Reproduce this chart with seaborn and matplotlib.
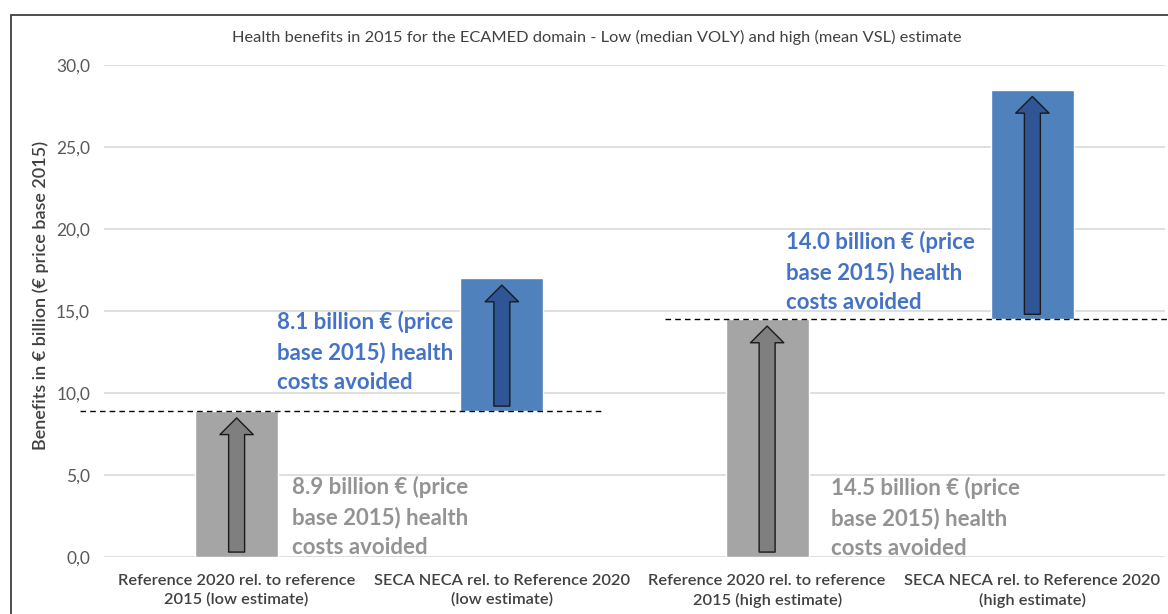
import numpy as np
import pandas as pd
import matplotlib
matplotlib.use("Agg")
import matplotlib.pyplot as plt
from matplotlib.patches import FancyArrowPatch, ArrowStyle, Rectangle
from matplotlib.ticker import FuncFormatter
import seaborn as sns

# ------------------------------------------------------------------
# Data
# ------------------------------------------------------------------
CATEGORIES = [
    "Reference 2020 rel. to reference\n2015 (low estimate)",
    "SECA NECA rel. to Reference 2020\n(low estimate)",
    "Reference 2020 rel. to reference\n2015 (high estimate)",
    "SECA NECA rel. to Reference 2020\n(high estimate)",
]
KIND = ["reference", "seca", "reference", "seca"]
BENEFIT = [8.9, 8.1, 14.5, 14.0]          # billion EUR, increment of each step
BASE = [0.0, 8.9, 0.0, 14.5]              # floating bars start here
Y_TICKS = [0, 5, 10, 15, 20, 25, 30]

TITLE = ("Health benefits in 2015 for the ECAMED domain - Low (median VOLY) "
         "and high (mean VSL) estimate")
YLABEL = "Benefits in \u20ac billion (\u20ac price base 2015)"

BAR_COLORS = {"reference": "#a5a5a5", "seca": "#4f81bd"}
ARROW_COLORS = {"reference": "#7f7f7f", "seca": "#2f5597"}
TEXT_COLORS = {"reference": "#939393", "seca": "#4472c4"}

# ------------------------------------------------------------------
# Figure
# ------------------------------------------------------------------
sns.set_style("white")
plt.rcParams["font.family"] = ["Lato", "DejaVu Sans"]

fig = plt.figure(figsize=(11.68, 6.14), dpi=100)
ax = fig.add_axes([104 / 1168, 1 - 557 / 614, 1061 / 1168, 492 / 614])

df = pd.DataFrame({"category": CATEGORIES, "kind": KIND,
                   "top": np.add(BASE, BENEFIT), "base": BASE})

sns.barplot(data=df, x="category", y="top", hue="kind", palette=BAR_COLORS,
            dodge=False, width=0.313, saturation=1, legend=False, ax=ax, zorder=2)

# turn the bars into floating bars (base -> top)
for patch in ax.patches:
    cx = patch.get_x() + patch.get_width() / 2
    i = int(round(cx))
    patch.set_y(df["base"][i])
    patch.set_height(df["top"][i] - df["base"][i])

# arrows inside bars
for i, row in df.iterrows():
    arr = FancyArrowPatch(
        (i, row["base"] + 0.3), (i, row["top"] - 0.42),
        arrowstyle=ArrowStyle.Simple(head_length=12, head_width=24, tail_width=11.5),
        mutation_scale=1, shrinkA=0, shrinkB=0,
        facecolor=ARROW_COLORS[row["kind"]], edgecolor="#1a1a1a", lw=1.0, zorder=3,
    )
    ax.add_patch(arr)

# dashed reference levels
ax.plot([-0.59, 1.377], [df["top"][0]] * 2, ls=(0, (4, 3)), color="black",
        lw=1.0, clip_on=False, zorder=4)
ax.plot([1.615, 3.6], [df["top"][2]] * 2, ls=(0, (4, 3)), color="black",
        lw=1.0, clip_on=False, zorder=4)

# annotations
def label(v):
    return f"{v:.1f} billion \u20ac (price\nbase 2015) health\ncosts avoided"

TEXT_POS = [(0.209, 2.44), (0.152, 12.5), (2.24, 2.38), (2.071, 17.38)]
for i, row in df.iterrows():
    tx, ty = TEXT_POS[i]
    ax.text(tx, ty, label(BENEFIT[i]), ha="left", va="center",
            fontsize=16, fontweight="bold", linespacing=1.5,
            color=TEXT_COLORS[row["kind"]], zorder=5)

# axes styling
ax.set_xlim(-0.5, 3.5)
ax.set_ylim(0, 30)
ax.set_yticks(Y_TICKS)
ax.yaxis.set_major_formatter(FuncFormatter(lambda v, p: f"{v:.1f}".replace(".", ",")))
ax.yaxis.grid(True, color="#d9d9d9", lw=1.2, zorder=0)
ax.set_axisbelow(True)
for s in ax.spines.values():
    s.set_visible(False)
ax.tick_params(axis="y", length=0, pad=10, labelsize=12.5, labelcolor="#595959")
ax.tick_params(axis="x", length=0, pad=12, labelsize=11.8, labelcolor="#404040")
for t in ax.get_xticklabels():
    t.set_fontweight("semibold")
    t.set_linespacing(1.42)
ax.set_xlabel("")
ax.set_ylabel("")

fig.text(41 / 1168, 1 - 295 / 614, YLABEL, rotation=90, ha="center", va="center",
         fontsize=13, color="#404040", fontweight="semibold")
fig.text(597 / 1168, 1 - 37 / 614, TITLE, ha="center", va="center",
         fontsize=11.8, color="#404040")

# chart frame (cut by the image edges, as in the source screenshot)
fig.patches.append(Rectangle((11 / 1168, -0.1), 1.2, 1.1 - 15 / 614,
                             transform=fig.transFigure, fill=False,
                             edgecolor="#404040", lw=1.3))

fig.savefig("out.png", dpi=100)
